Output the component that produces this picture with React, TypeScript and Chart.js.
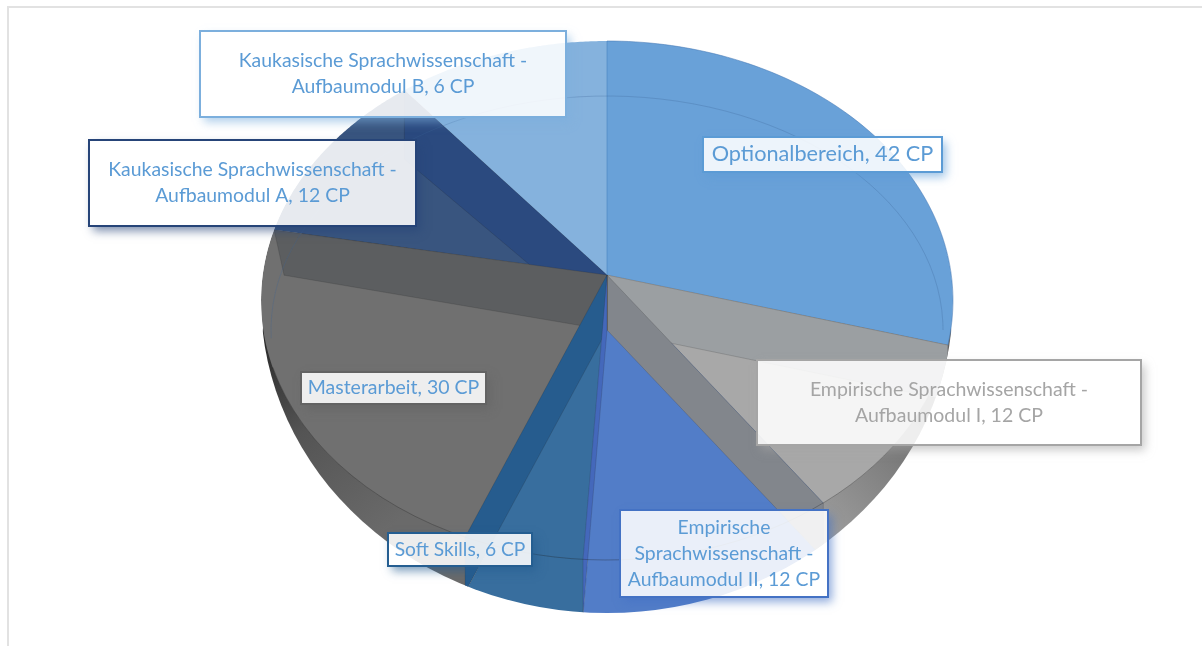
import React, { useEffect, useRef } from "react";
import { Chart, registerables } from "chart.js";

Chart.register(...registerables);

// ---- data ----
const categories = [
  "Optionalbereich",
  "Empirische Sprachwissenschaft -\nAufbaumodul I",
  "Empirische\nSprachwissenschaft -\nAufbaumodul II",
  "Soft Skills",
  "Masterarbeit",
  "Kaukasische Sprachwissenschaft -\nAufbaumodul A",
  "Kaukasische Sprachwissenschaft -\nAufbaumodul B",
];
const creditPoints = [42, 12, 12, 6, 30, 12, 6];
const unit = "CP";

// ---- styles ----
const faceColors = ["#69a1d8", "#a8a8a8", "#527dc8", "#386e9e", "#707070", "#39557f", "#85b2dd"];
const wallColors = ["#9b9fa2", "#82868c", "#4468bb", "#265c8e", "#5c5e60", "#2b4a7f", "#85b2dd"];
const borderColors = ["#5b9bd5", "#a5a5a5", "#4472c4", "#255e91", "#636363", "#264478", "#7cafdd"];
const textColors = ["#5b9bd5", "#a5a5a5", "#5b9bd5", "#5b9bd5", "#5b9bd5", "#5b9bd5", "#5b9bd5"];
const fontSizes = [21.7, 19.5, 19.4, 19.2, 19.5, 19.4, 19.4];

// ---- label boxes: left, top, right, bottom ----
const labelBoxes = [
  [703, 137, 942, 172],
  [757, 360, 1141, 445],
  [620, 510, 828, 597],
  [388, 533, 532, 566],
  [301, 372, 486, 404],
  [89, 140, 416, 226],
  [200, 31, 566, 117],
];

// ---- projection of the tilted 3D pie ----
const FONT_FAMILY = 'Lato, "Noto Sans", sans-serif';
const LINE_H = 26;
const APEX = { x: 607, y: 275 };
const P = -0.0983, K = 344.3, M = 257;
const DEPTH = 55;
const FIRST_ANGLE = -20;
// perspective stretch of each slice's start boundary, in degrees
const stretchDeg = [20, -0.6, 2.7, 5.6, 6, -5.7, -1.3];
// painting order of the inner walls (nearest last)
const wallOrder = [0, 1, 5, 4, 3, 2];
// outer end of each inner wall: vertical drop and shrink towards the apex
const wallDrop = [55, 55, 55, 55, 44, 69, 55];
const wallShrink = [1, 1, 1, 1, 0.97, 1, 1];

const rim = (deg: number, dy = 0) => {
  const t = (deg * Math.PI) / 180;
  const x = Math.sin(t);
  const y = -Math.cos(t);
  const w = 1 + P * y;
  return { x: APEX.x + (K * x) / w, y: APEX.y + (M * y) / w + dy };
};

const wedge = (ctx: CanvasRenderingContext2D, a: number, b: number, dy = 0) => {
  ctx.beginPath();
  ctx.moveTo(APEX.x, APEX.y + dy);
  for (let i = 0; i <= 80; i++) {
    const p = rim(a + ((b - a) * i) / 80, dy);
    ctx.lineTo(p.x, p.y);
  }
  ctx.closePath();
};

const silhouette = (ctx: CanvasRenderingContext2D) => {
  ctx.beginPath();
  ctx.ellipse(607, 300, 346, 260, 0, Math.PI, 2 * Math.PI);
  ctx.ellipse(607, 300, 346, 313, 0, 0, Math.PI);
  ctx.closePath();
};

const pie3d = {
  id: "pie3d",
  beforeDatasetDraw: () => false,
  afterDatasetsDraw(chart: any) {
    const ctx: CanvasRenderingContext2D = chart.ctx;
    const arcs = chart.getDatasetMeta(0).data;
    const n = arcs.length;
    const deg = (r: number) => (r * 180) / Math.PI + 90;
    const starts = arcs.map((a: any, i: number) => deg(a.startAngle) + stretchDeg[i]);
    const ends = arcs.map((_: any, i: number) => (i === n - 1 ? starts[0] + 360 : starts[i + 1]));

    ctx.save();
    silhouette(ctx);
    ctx.clip();

    // body of the pie below the top rim
    const rightWall = ctx.createLinearGradient(825, 530, 945, 420);
    rightWall.addColorStop(0, "#9c9c9c");
    rightWall.addColorStop(1, "#686868");
    const leftWall = ctx.createLinearGradient(262, 330, 400, 520);
    leftWall.addColorStop(0, "#262626");
    leftWall.addColorStop(0.45, "#545454");
    leftWall.addColorStop(1, "#6a6a6a");
    const lower = [rightWall, rightWall, faceColors[2], faceColors[3], leftWall, leftWall, faceColors[6]];
    for (let i = 0; i < n; i++) {
      wedge(ctx, starts[i], ends[i], DEPTH);
      ctx.fillStyle = lower[i];
      ctx.fill();
    }

    // top faces
    for (let i = 0; i < n; i++) {
      wedge(ctx, starts[i], ends[i]);
      ctx.fillStyle = arcs[i].options.backgroundColor;
      ctx.fill();
    }

    // inner walls seen through the glassy pie
    wallOrder.forEach((i) => {
      const e = rim(ends[i]);
      ctx.beginPath();
      ctx.moveTo(APEX.x, APEX.y);
      ctx.lineTo(e.x, e.y);
      ctx.lineTo(
        APEX.x + (e.x - APEX.x) * wallShrink[i],
        APEX.y + wallDrop[i] + (e.y - APEX.y) * wallShrink[i],
      );
      ctx.lineTo(APEX.x, APEX.y + DEPTH);
      ctx.closePath();
      ctx.fillStyle = wallColors[i];
      ctx.fill();
      ctx.strokeStyle = "rgba(40,40,40,0.18)";
      ctx.lineWidth = 1;
      ctx.stroke();
    });
    // vertical seam at the top
    ctx.strokeStyle = "rgba(70,130,190,0.6)";
    ctx.beginPath();
    ctx.moveTo(APEX.x, 41);
    ctx.lineTo(APEX.x, APEX.y);
    ctx.stroke();

    // rim lines
    ctx.lineWidth = 1;
    ctx.strokeStyle = "rgba(30,30,30,0.3)";
    ctx.beginPath();
    ctx.ellipse(607, 300, 346, 260, 0, (20 * Math.PI) / 180, (165 * Math.PI) / 180);
    ctx.stroke();
    ctx.strokeStyle = "rgba(60,100,150,0.28)";
    ctx.beginPath();
    ctx.ellipse(607, 330, 336, 234, 0, (178 * Math.PI) / 180, (360 * Math.PI) / 180);
    ctx.stroke();
    ctx.restore();

    // outline of the top of the pie
    ctx.save();
    ctx.strokeStyle = "rgba(70,120,180,0.55)";
    ctx.beginPath();
    const s0 = starts[0];
    for (let i = 0; i <= 80; i++) {
      const p = rim(s0 + ((ends[0] - s0) * i) / 80);
      if (i === 0) ctx.moveTo(p.x, p.y);
      else ctx.lineTo(p.x, p.y);
    }
    ctx.stroke();
    ctx.restore();

    // data labels
    chart.data.labels.forEach((name: string, i: number) => {
      const [l, t, r, b] = labelBoxes[i];
      const w = r - l;
      const h = b - t;
      ctx.save();
      // shadow, outside the box only
      ctx.beginPath();
      ctx.rect(0, 0, chart.width, chart.height);
      ctx.rect(l, t, w, h);
      ctx.clip("evenodd");
      ctx.shadowColor = borderColors[i] + "99";
      ctx.shadowBlur = 9;
      ctx.shadowOffsetX = 4;
      ctx.shadowOffsetY = 5;
      ctx.fillStyle = "#fff";
      ctx.fillRect(l, t, w, h);
      ctx.restore();

      ctx.save();
      ctx.fillStyle = "rgba(255,255,255,0.88)";
      ctx.fillRect(l, t, w, h);
      ctx.strokeStyle = borderColors[i];
      ctx.lineWidth = 2;
      ctx.strokeRect(l, t, w, h);
      ctx.font = `${fontSizes[i]}px ${FONT_FAMILY}`;
      ctx.fillStyle = textColors[i];
      ctx.textAlign = "center";
      ctx.textBaseline = "middle";
      const lines = `${name}, ${chart.data.datasets[0].data[i]} ${unit}`.split("\n");
      lines.forEach((line, k) => {
        const y = (t + b) / 2 + (k - (lines.length - 1) / 2) * LINE_H;
        ctx.fillText(line, (l + r) / 2, y);
      });
      ctx.restore();
    });
  },
};

export default function App() {
  const ref = useRef<HTMLCanvasElement>(null);
  useEffect(() => {
    const chart = new Chart(ref.current as HTMLCanvasElement, {
      type: "pie",
      data: {
        labels: categories,
        datasets: [{ data: creditPoints, backgroundColor: faceColors, borderWidth: 0 }],
      },
      options: {
        responsive: false,
        animation: false,
        rotation: FIRST_ANGLE,
        plugins: { legend: { display: false }, tooltip: { enabled: false } },
      },
      plugins: [pie3d],
    } as any);
    return () => chart.destroy();
  }, []);
  return (
    <div style={{ position: "fixed", inset: 0, overflow: "hidden", background: "#fff" }}>
      <div
        style={{
          position: "absolute",
          left: 7,
          top: 6,
          width: 1300,
          height: 800,
          borderLeft: "2px solid #e2e2e2",
          borderTop: "2px solid #e2e2e2",
        }}
      />
      <canvas
        ref={ref}
        width={1202}
        height={646}
        style={{ position: "absolute", left: 0, top: 0, width: 1202, height: 646, filter: "blur(0.4px)" }}
      />
    </div>
  );
}
